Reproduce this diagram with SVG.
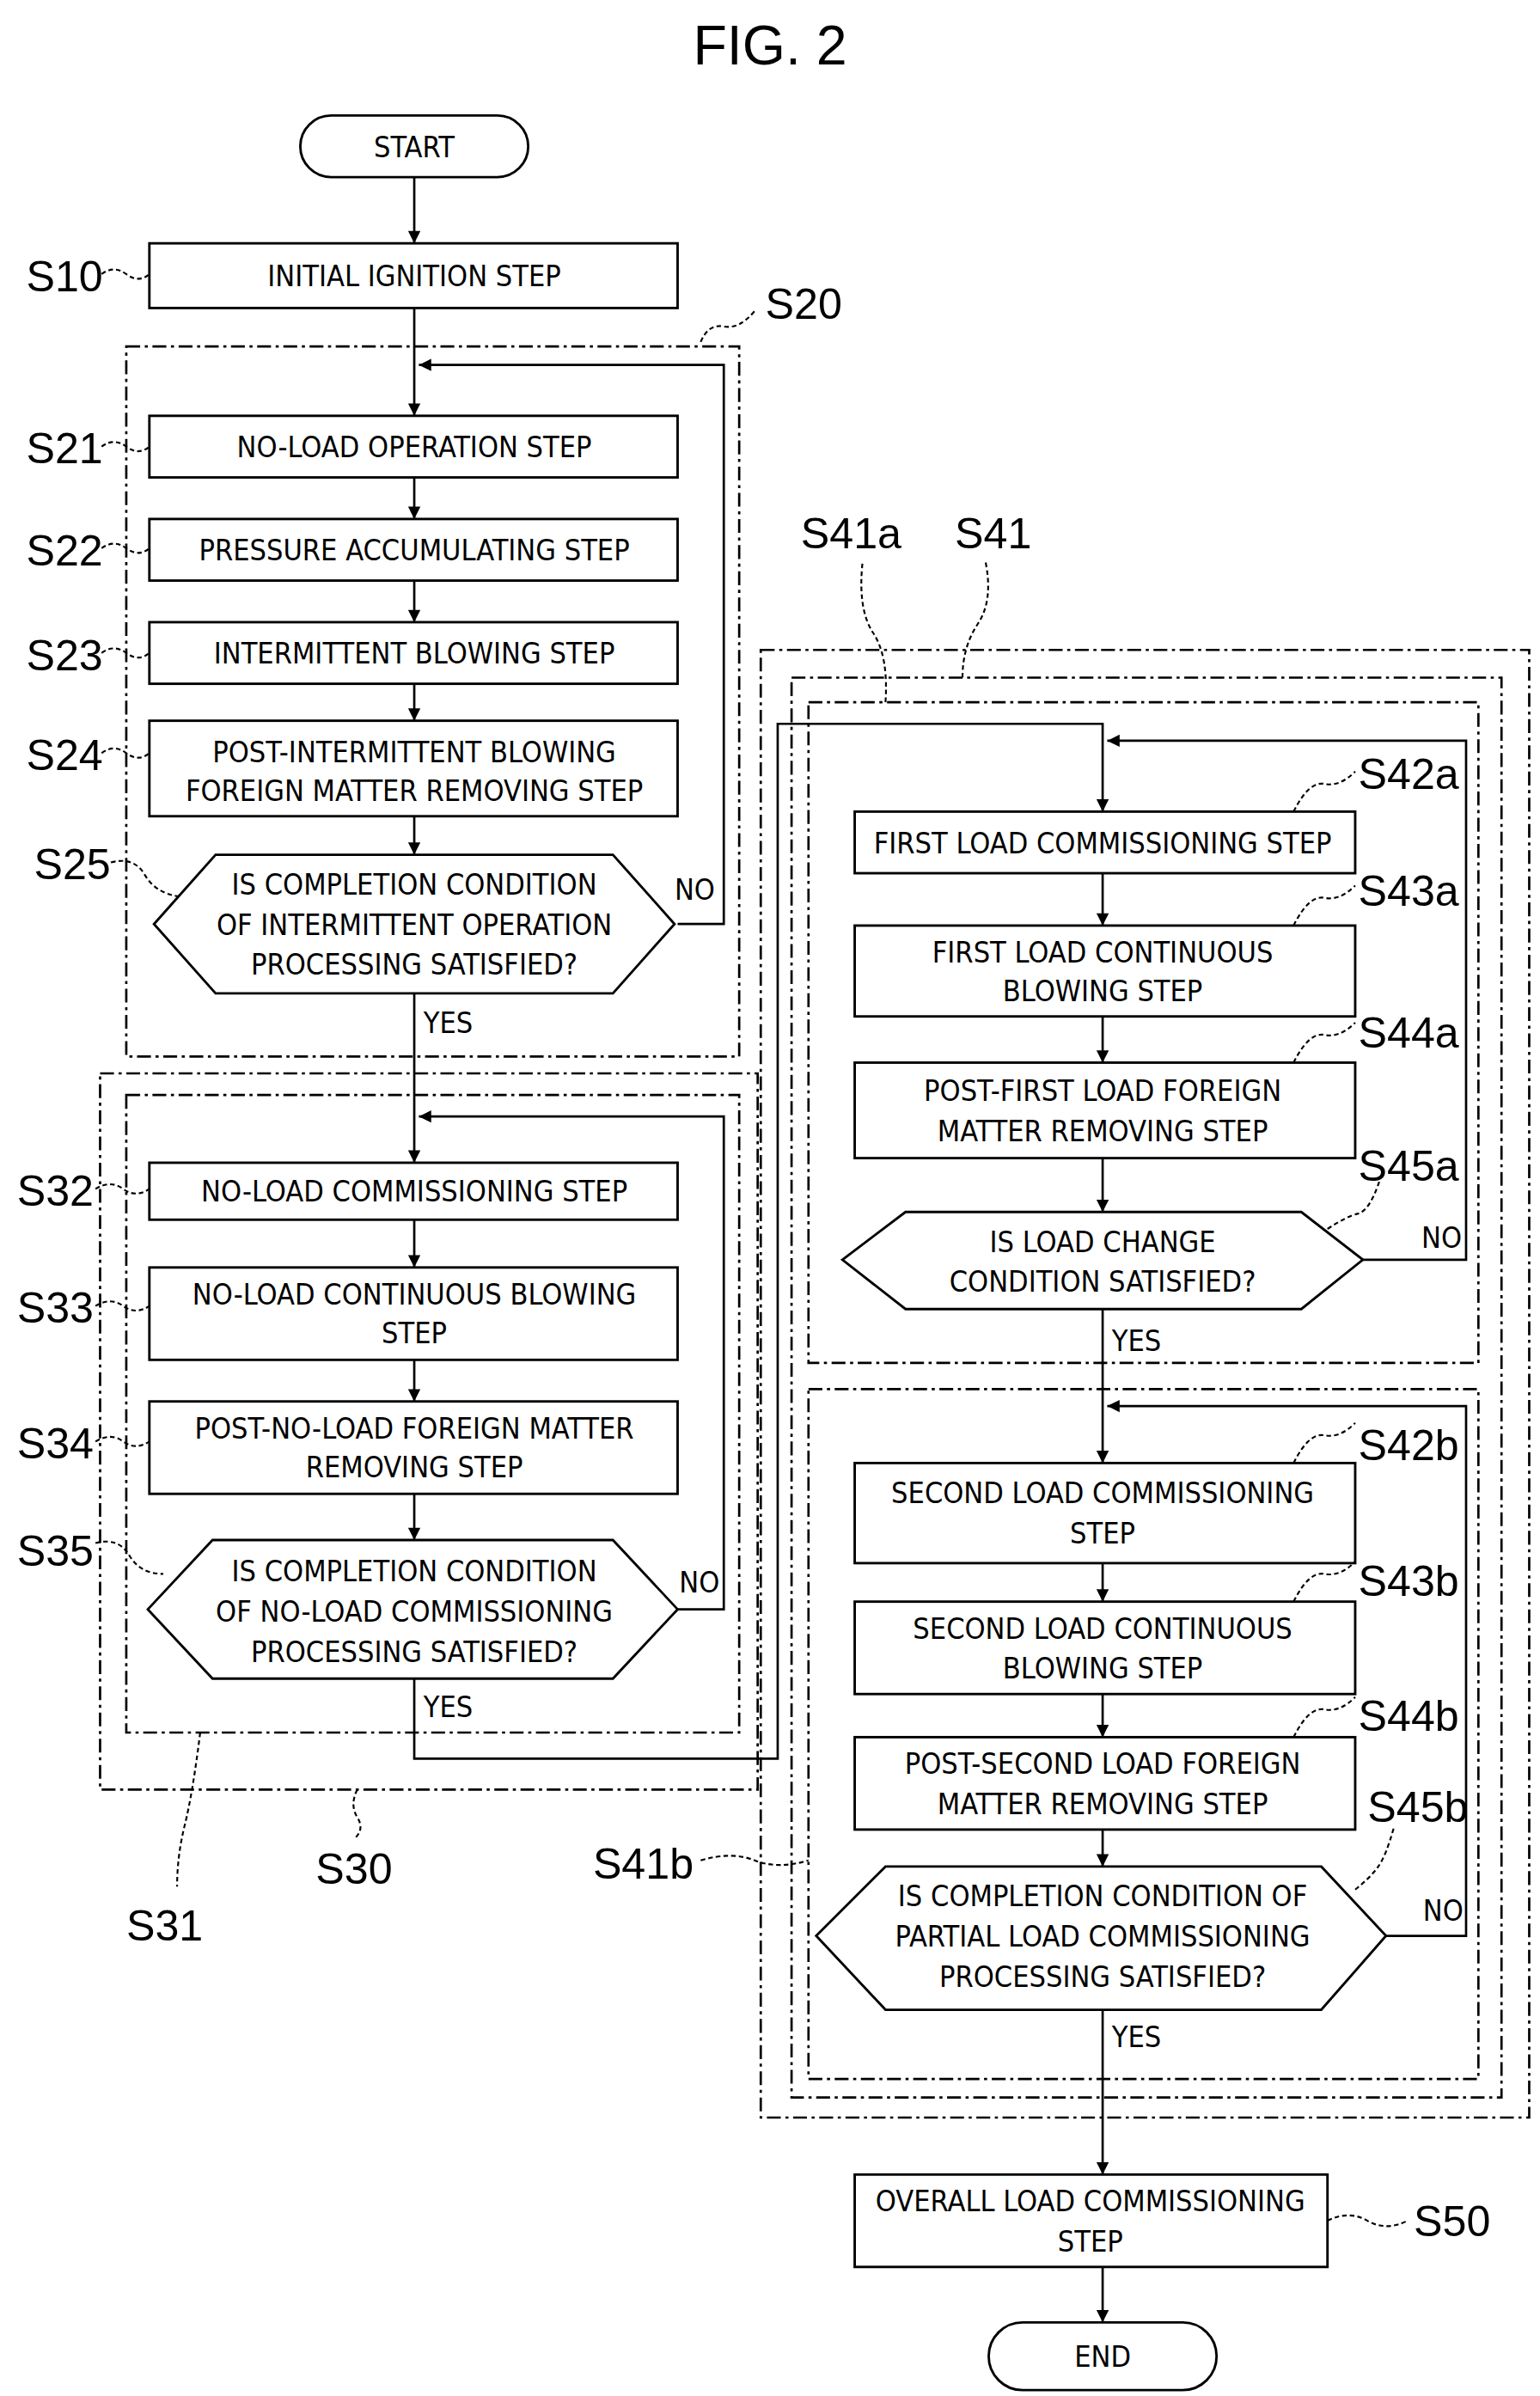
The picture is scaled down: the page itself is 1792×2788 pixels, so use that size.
<svg xmlns="http://www.w3.org/2000/svg" width="1792" height="2788" viewBox="0 0 1792 2788">
<defs>
<style>
.b{fill:#fff;stroke:#000;stroke-width:1.6}
.g{fill:none;stroke:#000;stroke-width:1.5;stroke-dasharray:9 3 2 3}
.c{fill:none;stroke:#000;stroke-width:1.5}
.l{fill:none;stroke:#000;stroke-width:1.2;stroke-dasharray:3 2}
.t{font-family:"Liberation Sans Narrow","DejaVu Sans Condensed","Liberation Sans",sans-serif;font-size:19px;text-anchor:middle;fill:#000}
.s{font-family:"Liberation Sans",sans-serif;font-size:28px;fill:#000}
</style>
<marker id="a" markerWidth="10" markerHeight="10" refX="9" refY="5" orient="auto" markerUnits="userSpaceOnUse"><path d="M1,1 L9,5 L1,9 Z" fill="#000"/></marker>
</defs>
<rect width="1792" height="2788" fill="#fff"/>
<g transform="scale(1.792)">
<text x="500" y="42" class="s" style="font-size:36px;text-anchor:middle">FIG. 2</text>

<g id="groups">
<rect class="g" x="82" y="225" width="398" height="461"/>
<rect class="g" x="65" y="697" width="427" height="465"/>
<rect class="g" x="82" y="711" width="398" height="414"/>
<rect class="g" x="494" y="422" width="499" height="953"/>
<rect class="g" x="514" y="440" width="461" height="922"/>
<rect class="g" x="525" y="456" width="435" height="429"/>
<rect class="g" x="525" y="902" width="435" height="448"/>
</g>

<g id="connectors">
<path class="c" marker-end="url(#a)" d="M269,115 V158"/>
<path class="c" marker-end="url(#a)" d="M269,200 V270"/>
<path class="c" marker-end="url(#a)" d="M440,600 H470 V237 H272"/>
<path class="c" marker-end="url(#a)" d="M269,310 V337"/>
<path class="c" marker-end="url(#a)" d="M269,377 V404"/>
<path class="c" marker-end="url(#a)" d="M269,444 V468"/>
<path class="c" marker-end="url(#a)" d="M269,530 V555"/>
<path class="c" marker-end="url(#a)" d="M269,645 V755"/>
<path class="c" marker-end="url(#a)" d="M440,1045 H470 V725 H272"/>
<path class="c" marker-end="url(#a)" d="M269,792 V823"/>
<path class="c" marker-end="url(#a)" d="M269,883 V910"/>
<path class="c" marker-end="url(#a)" d="M269,970 V1000"/>
<path class="c" marker-end="url(#a)" d="M269,1090 V1142 H505 V470 H716 V527"/>
<path class="c" marker-end="url(#a)" d="M885,818 H952 V481 H719"/>
<path class="c" marker-end="url(#a)" d="M716,567 V601"/>
<path class="c" marker-end="url(#a)" d="M716,660 V690"/>
<path class="c" marker-end="url(#a)" d="M716,752 V787"/>
<path class="c" marker-end="url(#a)" d="M716,850 V950"/>
<path class="c" marker-end="url(#a)" d="M900,1257 H952 V913 H719"/>
<path class="c" marker-end="url(#a)" d="M716,1015 V1040"/>
<path class="c" marker-end="url(#a)" d="M716,1100 V1128"/>
<path class="c" marker-end="url(#a)" d="M716,1188 V1212"/>
<path class="c" marker-end="url(#a)" d="M716,1305 V1412"/>
<path class="c" marker-end="url(#a)" d="M716,1472 V1508"/>
</g>

<g id="START"><rect class="b" x="195" y="75" width="148" height="40" rx="20"/><text class="t" x="269" y="102">START</text></g>
<g id="S10"><rect class="b" x="97" y="158" width="343" height="42"/><text class="t" x="269" y="186">INITIAL IGNITION STEP</text></g>
<g id="S21"><rect class="b" x="97" y="270" width="343" height="40"/><text class="t" x="269" y="297">NO-LOAD OPERATION STEP</text></g>
<g id="S22"><rect class="b" x="97" y="337" width="343" height="40"/><text class="t" x="269" y="364">PRESSURE ACCUMULATING STEP</text></g>
<g id="S23"><rect class="b" x="97" y="404" width="343" height="40"/><text class="t" x="269" y="431">INTERMITTENT BLOWING STEP</text></g>
<g id="S24"><rect class="b" x="97" y="468" width="343" height="62"/><text class="t" x="269" y="495">POST-INTERMITTENT BLOWING</text><text class="t" x="269" y="520">FOREIGN MATTER REMOVING STEP</text></g>
<g id="S25"><polygon class="b" points="100,600 140,555 398,555 438,600 398,645 140,645"/><text class="t" x="269" y="581">IS COMPLETION CONDITION</text><text class="t" x="269" y="607">OF INTERMITTENT OPERATION</text><text class="t" x="269" y="633">PROCESSING SATISFIED?</text></g>
<g id="S32"><rect class="b" x="97" y="755" width="343" height="37"/><text class="t" x="269" y="780">NO-LOAD COMMISSIONING STEP</text></g>
<g id="S33"><rect class="b" x="97" y="823" width="343" height="60"/><text class="t" x="269" y="847">NO-LOAD CONTINUOUS BLOWING</text><text class="t" x="269" y="872">STEP</text></g>
<g id="S34"><rect class="b" x="97" y="910" width="343" height="60"/><text class="t" x="269" y="934">POST-NO-LOAD FOREIGN MATTER</text><text class="t" x="269" y="959">REMOVING STEP</text></g>
<g id="S35"><polygon class="b" points="96,1045 138,1000 398,1000 440,1045 398,1090 138,1090"/><text class="t" x="269" y="1027">IS COMPLETION CONDITION</text><text class="t" x="269" y="1053">OF NO-LOAD COMMISSIONING</text><text class="t" x="269" y="1079">PROCESSING SATISFIED?</text></g>
<g id="S42a"><rect class="b" x="555" y="527" width="325" height="40"/><text class="t" x="716" y="554">FIRST LOAD COMMISSIONING STEP</text></g>
<g id="S43a"><rect class="b" x="555" y="601" width="325" height="59"/><text class="t" x="716" y="625">FIRST LOAD CONTINUOUS</text><text class="t" x="716" y="650">BLOWING STEP</text></g>
<g id="S44a"><rect class="b" x="555" y="690" width="325" height="62"/><text class="t" x="716" y="715">POST-FIRST LOAD FOREIGN</text><text class="t" x="716" y="741">MATTER REMOVING STEP</text></g>
<g id="S45a"><polygon class="b" points="547,818 588,787 845,787 885,818 845,850 588,850"/><text class="t" x="716" y="813">IS LOAD CHANGE</text><text class="t" x="716" y="839">CONDITION SATISFIED?</text></g>
<g id="S42b"><rect class="b" x="555" y="950" width="325" height="65"/><text class="t" x="716" y="976">SECOND LOAD COMMISSIONING</text><text class="t" x="716" y="1002">STEP</text></g>
<g id="S43b"><rect class="b" x="555" y="1040" width="325" height="60"/><text class="t" x="716" y="1064">SECOND LOAD CONTINUOUS</text><text class="t" x="716" y="1090">BLOWING STEP</text></g>
<g id="S44b"><rect class="b" x="555" y="1128" width="325" height="60"/><text class="t" x="716" y="1152">POST-SECOND LOAD FOREIGN</text><text class="t" x="716" y="1178">MATTER REMOVING STEP</text></g>
<g id="S45b"><polygon class="b" points="530,1257 575,1212 858,1212 900,1257 858,1305 575,1305"/><text class="t" x="716" y="1238">IS COMPLETION CONDITION OF</text><text class="t" x="716" y="1264">PARTIAL LOAD COMMISSIONING</text><text class="t" x="716" y="1290">PROCESSING SATISFIED?</text></g>
<g id="S50"><rect class="b" x="555" y="1412" width="307" height="60"/><text class="t" x="708" y="1436">OVERALL LOAD COMMISSIONING</text><text class="t" x="708" y="1462">STEP</text></g>
<g id="END"><rect class="b" x="642" y="1508" width="148" height="44" rx="22"/><text class="t" x="716" y="1537">END</text></g>

<g id="flowlabels" class="t" style="text-anchor:start">
<text x="438" y="584">NO</text><text x="275" y="671">YES</text>
<text x="441" y="1034">NO</text><text x="275" y="1115">YES</text>
<text x="923" y="810">NO</text><text x="722" y="877">YES</text>
<text x="924" y="1247">NO</text><text x="722" y="1329">YES</text>
</g>

<g id="refs">
<text class="s" x="17" y="189">S10</text><path class="l" d="M66,178 q8,-6 16,0 t15,0"/>
<text class="s" x="497" y="207">S20</text><path class="l" d="M455,222 q5,-12 15,-10 t20,-10"/>
<text class="s" x="17" y="301">S21</text><path class="l" d="M66,290 q8,-6 16,0 t15,0"/>
<text class="s" x="17" y="367">S22</text><path class="l" d="M66,356 q8,-6 16,0 t15,0"/>
<text class="s" x="17" y="435">S23</text><path class="l" d="M66,424 q8,-6 16,0 t15,0"/>
<text class="s" x="17" y="500">S24</text><path class="l" d="M66,489 q8,-6 16,0 t15,0"/>
<text class="s" x="22" y="571">S25</text><path class="l" d="M72,560 q15,-4 22,8 t22,14"/>
<text class="s" x="11" y="783">S32</text><path class="l" d="M62,772 q10,-6 18,0 t17,0"/>
<text class="s" x="11" y="859">S33</text><path class="l" d="M62,848 q10,-6 18,0 t17,0"/>
<text class="s" x="11" y="947">S34</text><path class="l" d="M62,936 q10,-6 18,0 t17,0"/>
<text class="s" x="11" y="1017">S35</text><path class="l" d="M62,1002 q15,-4 22,8 t22,12"/>
<text class="s" x="205" y="1223">S30</text><path class="l" d="M232,1162 q-5,10 0,18 t-2,14"/>
<text class="s" x="82" y="1260">S31</text><path class="l" d="M130,1125 q-5,40 -10,60 t-5,40"/>
<text class="s" x="385" y="1220">S41b</text><path class="l" d="M455,1208 q20,-6 35,0 t35,0"/>
<text class="s" x="520" y="356">S41a</text><path class="l" d="M575,456 q2,-30 -8,-45 t-7,-45"/>
<text class="s" x="620" y="356">S41</text><path class="l" d="M625,440 q0,-20 10,-35 t5,-40"/>
<text class="s" x="882" y="512">S42a</text><path class="l" d="M840,527 q10,-20 20,-18 t20,-8"/>
<text class="s" x="882" y="588">S43a</text><path class="l" d="M840,601 q10,-20 20,-18 t20,-8"/>
<text class="s" x="882" y="680">S44a</text><path class="l" d="M840,690 q10,-20 20,-18 t20,-8"/>
<text class="s" x="882" y="767">S45a</text><path class="l" d="M862,798 q12,-8 20,-10 t15,-25"/>
<text class="s" x="882" y="948">S42b</text><path class="l" d="M840,950 q10,-20 20,-18 t20,-8"/>
<text class="s" x="882" y="1036">S43b</text><path class="l" d="M840,1040 q10,-20 20,-18 t20,-8"/>
<text class="s" x="882" y="1124">S44b</text><path class="l" d="M840,1128 q10,-20 20,-18 t20,-8"/>
<text class="s" x="888" y="1183">S45b</text><path class="l" d="M880,1227 q10,-8 15,-15 t10,-25"/>
<text class="s" x="918" y="1452">S50</text><path class="l" d="M862,1442 q14,-7 26,0 t26,0"/>
</g>
</g>
</svg>
